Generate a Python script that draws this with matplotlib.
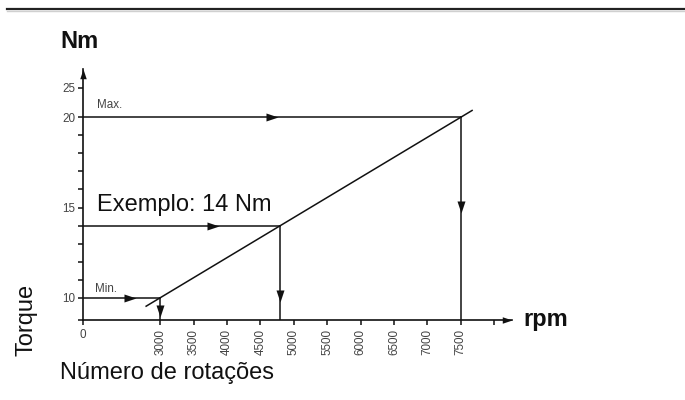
import numpy as np
import matplotlib
matplotlib.use("Agg")
import matplotlib.pyplot as plt
from matplotlib.lines import Line2D

plt.rcParams['font.family'] = ['Liberation Sans', 'DejaVu Sans']

# torque curve (rpm -> Nm)
curve_rpm = [2790, 7670]
curve_nm = [9.53, 20.38]

# reading guides: torque level and rpm where it meets the curve
guide_nm = [20, 14, 10]
guide_rpm = [7500, 4800, 3000]
guide_labels = ["Max.", "Exemplo: 14 Nm", "Min."]
# where the arrow heads sit on each guide
arrow_h_rpm = [4764, 3885, 2638]
arrow_v_nm = [14.71, 9.78, 8.93]

x_ticks = [0, 3000, 3500, 4000, 4500, 5000, 5500, 6000, 6500, 7000, 7500, 8000]
x_ticklabels = ["0", "3000", "3500", "4000", "4500", "5000", "5500",
                "6000", "6500", "7000", "7500", ""]
y_ticks = [8.75, 10, 11, 12, 13, 14, 15, 16, 17, 18, 19, 20, 25]
y_ticklabels = ["", "10", "", "", "", "", "15", "", "", "", "", "20", "25"]

X_MIN, X_MAX = 0, 8267
Y_MIN, Y_MAX = 8.75, 31.5


# broken axes: 0..2500 rpm squeezed, 21..40 Nm squeezed
def x_fwd(x):
    return np.interp(x, [0, 2500, 10000], [0, 660, 8160])


def x_inv(p):
    return np.interp(p, [0, 660, 8160], [0, 2500, 10000])


def y_fwd(y):
    return np.interp(y, [0, 21, 40], [0, 21, 24.04])


def y_inv(p):
    return np.interp(p, [0, 21, 24.04], [0, 21, 40])


fig = plt.figure(figsize=(6.85, 4), dpi=100)
ax = fig.add_axes([0.1207, 0.1993, 0.6267, 0.6283])
ax.set_xscale('function', functions=(x_fwd, x_inv))
ax.set_yscale('function', functions=(y_fwd, y_inv))
ax.set_xlim(X_MIN, X_MAX)
ax.set_ylim(Y_MIN, Y_MAX)

for s in ['top', 'right']:
    ax.spines[s].set_visible(False)
for s in ['left', 'bottom']:
    ax.spines[s].set_linewidth(1.2)
    ax.spines[s].set_color('#111')

ax.set_xticks(x_ticks)
ax.set_xticklabels(x_ticklabels)
ax.set_yticks(y_ticks)
ax.set_yticklabels(y_ticklabels)
ax.minorticks_off()
ax.tick_params(direction='out', length=3.6, width=1.1, color='#111',
               labelcolor='#444', labelsize=8.4)
ax.tick_params(axis='x', pad=3)
ax.tick_params(axis='y', pad=2)
for lbl in ax.get_xticklabels()[1:]:
    lbl.set_rotation(90)

# arrow head markers, tip at the data point
arrow_r = [(0, 0), (-1.5, 0.5), (-1.5, -0.5), (0, 0)]
arrow_d = [(0, 0), (0.5, 1.5), (-0.5, 1.5), (0, 0)]
arrow_u = [(0, 0), (0.5, -1.5), (-0.5, -1.5), (0, 0)]

# axis arrows
ax.plot(1, 0, marker=arrow_r, ms=14, color='#111', mew=0,
        transform=ax.transAxes, clip_on=False)
ax.plot(0, 1, marker=arrow_u, ms=14, color='#111', mew=0,
        transform=ax.transAxes, clip_on=False)

# curve
ax.plot(curve_rpm, curve_nm, color='#111', lw=1.1, clip_on=False)

# guides
label_off = [(10.3, 8.9), (10.3, 10.8), (8.9, 6.3)]
for i in range(len(guide_nm)):
    nm, rpm = guide_nm[i], guide_rpm[i]
    ax.plot([X_MIN, rpm], [nm, nm], color='#111', lw=1.1)
    ax.plot([rpm, rpm], [nm, Y_MIN], color='#111', lw=1.1)
    ax.plot(arrow_h_rpm[i], nm, marker=arrow_r, ms=17.3, color='#111', mew=0)
    ax.plot(rpm, arrow_v_nm[i], marker=arrow_d, ms=17.3, color='#111', mew=0)
    if i == 1:
        ax.annotate(guide_labels[i], xy=(X_MIN, nm), xytext=label_off[i],
                    textcoords='offset points', va='baseline', ha='left',
                    fontsize=17, color='#111')
    else:
        ax.annotate(guide_labels[i], xy=(X_MIN, nm), xytext=label_off[i],
                    textcoords='offset points', va='center', ha='left',
                    fontsize=8.4, color='#444')

# outer texts
fig.text(60 / 685, 1 - 48 / 400, "Nm", fontsize=17, fontweight='bold',
         va='baseline', ha='left', color='#111')
fig.text(523 / 685, 1 - 326 / 400, "rpm", fontsize=17, fontweight='bold',
         va='baseline', ha='left', color='#111')
fig.text(26.5 / 685, 1 - 320 / 400, "Torque", fontsize=17, rotation=90,
         va='center', ha='center', color='#111')
fig.text(60 / 685, 1 - 379 / 400, "Número de rotações", fontsize=17,
         va='baseline', ha='left', color='#111')

# rule at the top of the page
fig.add_artist(Line2D([7 / 685, 1], [1 - 8.5 / 400] * 2, color='#222', lw=1.6))
fig.add_artist(Line2D([7 / 685, 1], [1 - 10.5 / 400] * 2, color='#d0d0d0', lw=1))

fig.savefig("out.png", dpi=100)
